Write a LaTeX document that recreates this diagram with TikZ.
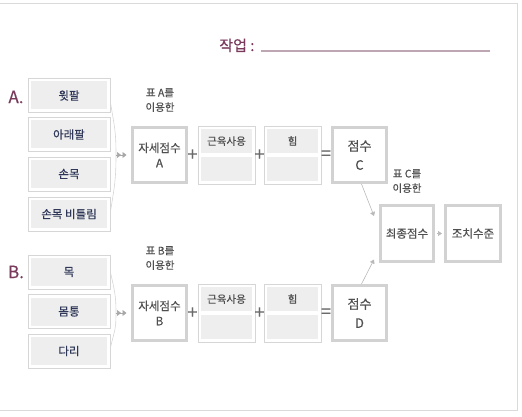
\documentclass[tikz,border=0pt]{standalone}
\usepackage{fontspec}
\setmainfont{Noto Sans CJK KR}[FakeBold=0.5]
\usetikzlibrary{arrows.meta}

\definecolor{framegray}{HTML}{DADADA}
\definecolor{edgegray}{HTML}{D6D6D6}
\definecolor{thickgray}{HTML}{D2D2D2}
\definecolor{panelgray}{HTML}{EEEEEE}
\definecolor{partnavy}{HTML}{2E3757}
\definecolor{plum}{HTML}{7A3A5C}
\definecolor{blankplum}{HTML}{BFA6B3}
\definecolor{tipgray}{HTML}{A8A8A8}
\definecolor{textgray}{HTML}{505050}

\begin{document}
\begin{tikzpicture}[
    x=1pt, y=-1pt,
    font=\fontsize{11.5}{12}\selectfont,
    part/.style={draw=edgegray, fill=white, line width=0.8pt,
        minimum width=82pt, minimum height=34pt, text=partnavy,
        font=\fontsize{11.5}{12}\selectfont,
        path picture={\fill[panelgray]
            ([shift={(3pt,-3pt)}]path picture bounding box.north west) rectangle
            ([shift={(-3pt,3pt)}]path picture bounding box.south east);}},
    score/.style={draw=thickgray, fill=white, line width=3pt,
        minimum width=54pt, minimum height=55pt, align=center, text=textgray},
    factor/.style={draw=edgegray, fill=white, line width=0.8pt,
        minimum width=57pt, minimum height=58pt, text=textgray,
        font=\fontsize{10.5}{12}\selectfont,
        text height=8pt, text depth=28pt,
        path picture={
            \fill[panelgray]
                ([shift={(3pt,-3pt)}]path picture bounding box.north west) rectangle
                ([shift={(-3pt,2pt)}]path picture bounding box.east);
            \fill[panelgray]
                ([shift={(3pt,-2pt)}]path picture bounding box.west) rectangle
                ([shift={(-3pt,3pt)}]path picture bounding box.south east);}},
    group/.style={text=plum, font=\fontsize{17}{17}\selectfont},
    tablenote/.style={align=center, text=textgray, font=\fontsize{10.5}{14.5}\selectfont},
    op/.style={text=textgray!85, font=\fontsize{18}{18}\selectfont, inner sep=0pt},
    brace/.style={draw=edgegray, line width=0.6pt},
    feed/.style={draw=tipgray, line width=0.5pt, shorten >=3pt,
        -{Triangle[length=4pt,width=6pt,sep=1.5pt] Triangle[length=4pt,width=6pt,sep=1.5pt]}},
    flow/.style={draw=tipgray!80, line width=0.6pt, -{Triangle[length=4pt,width=5pt]}}
]
\useasboundingbox (0,0) rectangle (522,417);

% Frame and title
\draw[framegray, line width=1pt] (0,4) -- (517,4) -- (517,410) -- (0,410);

\node[anchor=base east, text=plum, font=\fontsize{15}{15}\selectfont] (title) at (258,51)
    {작업 :};
\coordinate (blankend) at (490,51);
\draw[blankplum, line width=1.1pt] ([xshift=3pt]title.base east) -- (blankend);

% Group A
\node[group] (groupA) at (16,97) {A.};
\node[part] (upperarm) at (69,95.5) {윗팔};
\node[part] (lowerarm) at (69,134.5) {아래팔};
\node[part] (wrist) at (69,174) {손목};
\node[part] (twist) at (69,214) {손목 비틀림};

\coordinate (joinA) at (116,155);
\draw[brace] ([yshift=-6.5pt]upperarm.east) .. controls +(4,25) and +(0,-25) .. (joinA);
\draw[brace] ([yshift=2pt]twist.east) .. controls +(4,-25) and +(0,25) .. (joinA);

\node[tablenote] (tableA) at (160,100) {표 A를\\이용한};
\node[score, font=\fontsize{11.5}{15}\selectfont] (postureA) at (159.5,155)
    {자세점수\\A};
\draw[feed] (joinA) -- (postureA);

\node[op] (plusA1) at (192.5,155) {+};
\node[factor] (muscleA) at (226.5,155) {근육사용};
\node[op] (plusA2) at (259.5,155) {+};
\node[factor] (forceA) at (292.5,155) {힘};
\node[op] (equalA) at (326,155) {=};
\node[score, font=\fontsize{13}{19}\selectfont] (scoreC) at (359.5,155) {점수\\C};

% Group B
\node[group] (groupB) at (16,272) {B.};
\node[part] (neck) at (69,272) {목};
\node[part] (trunk) at (69,311.5) {몸통};
\node[part] (leg) at (69,351) {다리};

\coordinate (joinB) at (116,313);
\draw[brace] (neck.east) .. controls +(4,18) and +(0,-18) .. (joinB);
\draw[brace] ([yshift=3pt]leg.east) .. controls +(4,-18) and +(0,18) .. (joinB);

\node[tablenote] (tableB) at (160,258) {표 B를\\이용한};
\node[score, font=\fontsize{11.5}{15}\selectfont] (postureB) at (159.5,313)
    {자세점수\\B};
\draw[feed] (joinB) -- (postureB);

\node[op] (plusB1) at (192.5,313) {+};
\node[factor] (muscleB) at (226.5,313) {근육사용};
\node[op] (plusB2) at (259.5,313) {+};
\node[factor] (forceB) at (292.5,313) {힘};
\node[op] (equalB) at (326,313) {=};
\node[score, font=\fontsize{13}{19}\selectfont] (scoreD) at (359.5,313) {점수\\D};

% Final score
\node[tablenote] (tableC) at (407,181) {표 C를\\이용한};
\node[score, minimum height=56pt, minimum width=53pt] (final) at (407,233.5) {최종점수};
\node[score, minimum height=56pt, minimum width=55pt] (action) at (473,233.5) {조치수준};

\draw[flow] ([xshift=2pt]scoreC.south) -- ([shift={(-5pt,17.5pt)}]final.west);
\draw[flow] ([xshift=2pt]scoreD.north) -- ([shift={(-5pt,-26pt)}]final.west);
\draw[flow, shorten <=2pt, shorten >=2pt] (final) -- (action);

\end{tikzpicture}
\end{document}
